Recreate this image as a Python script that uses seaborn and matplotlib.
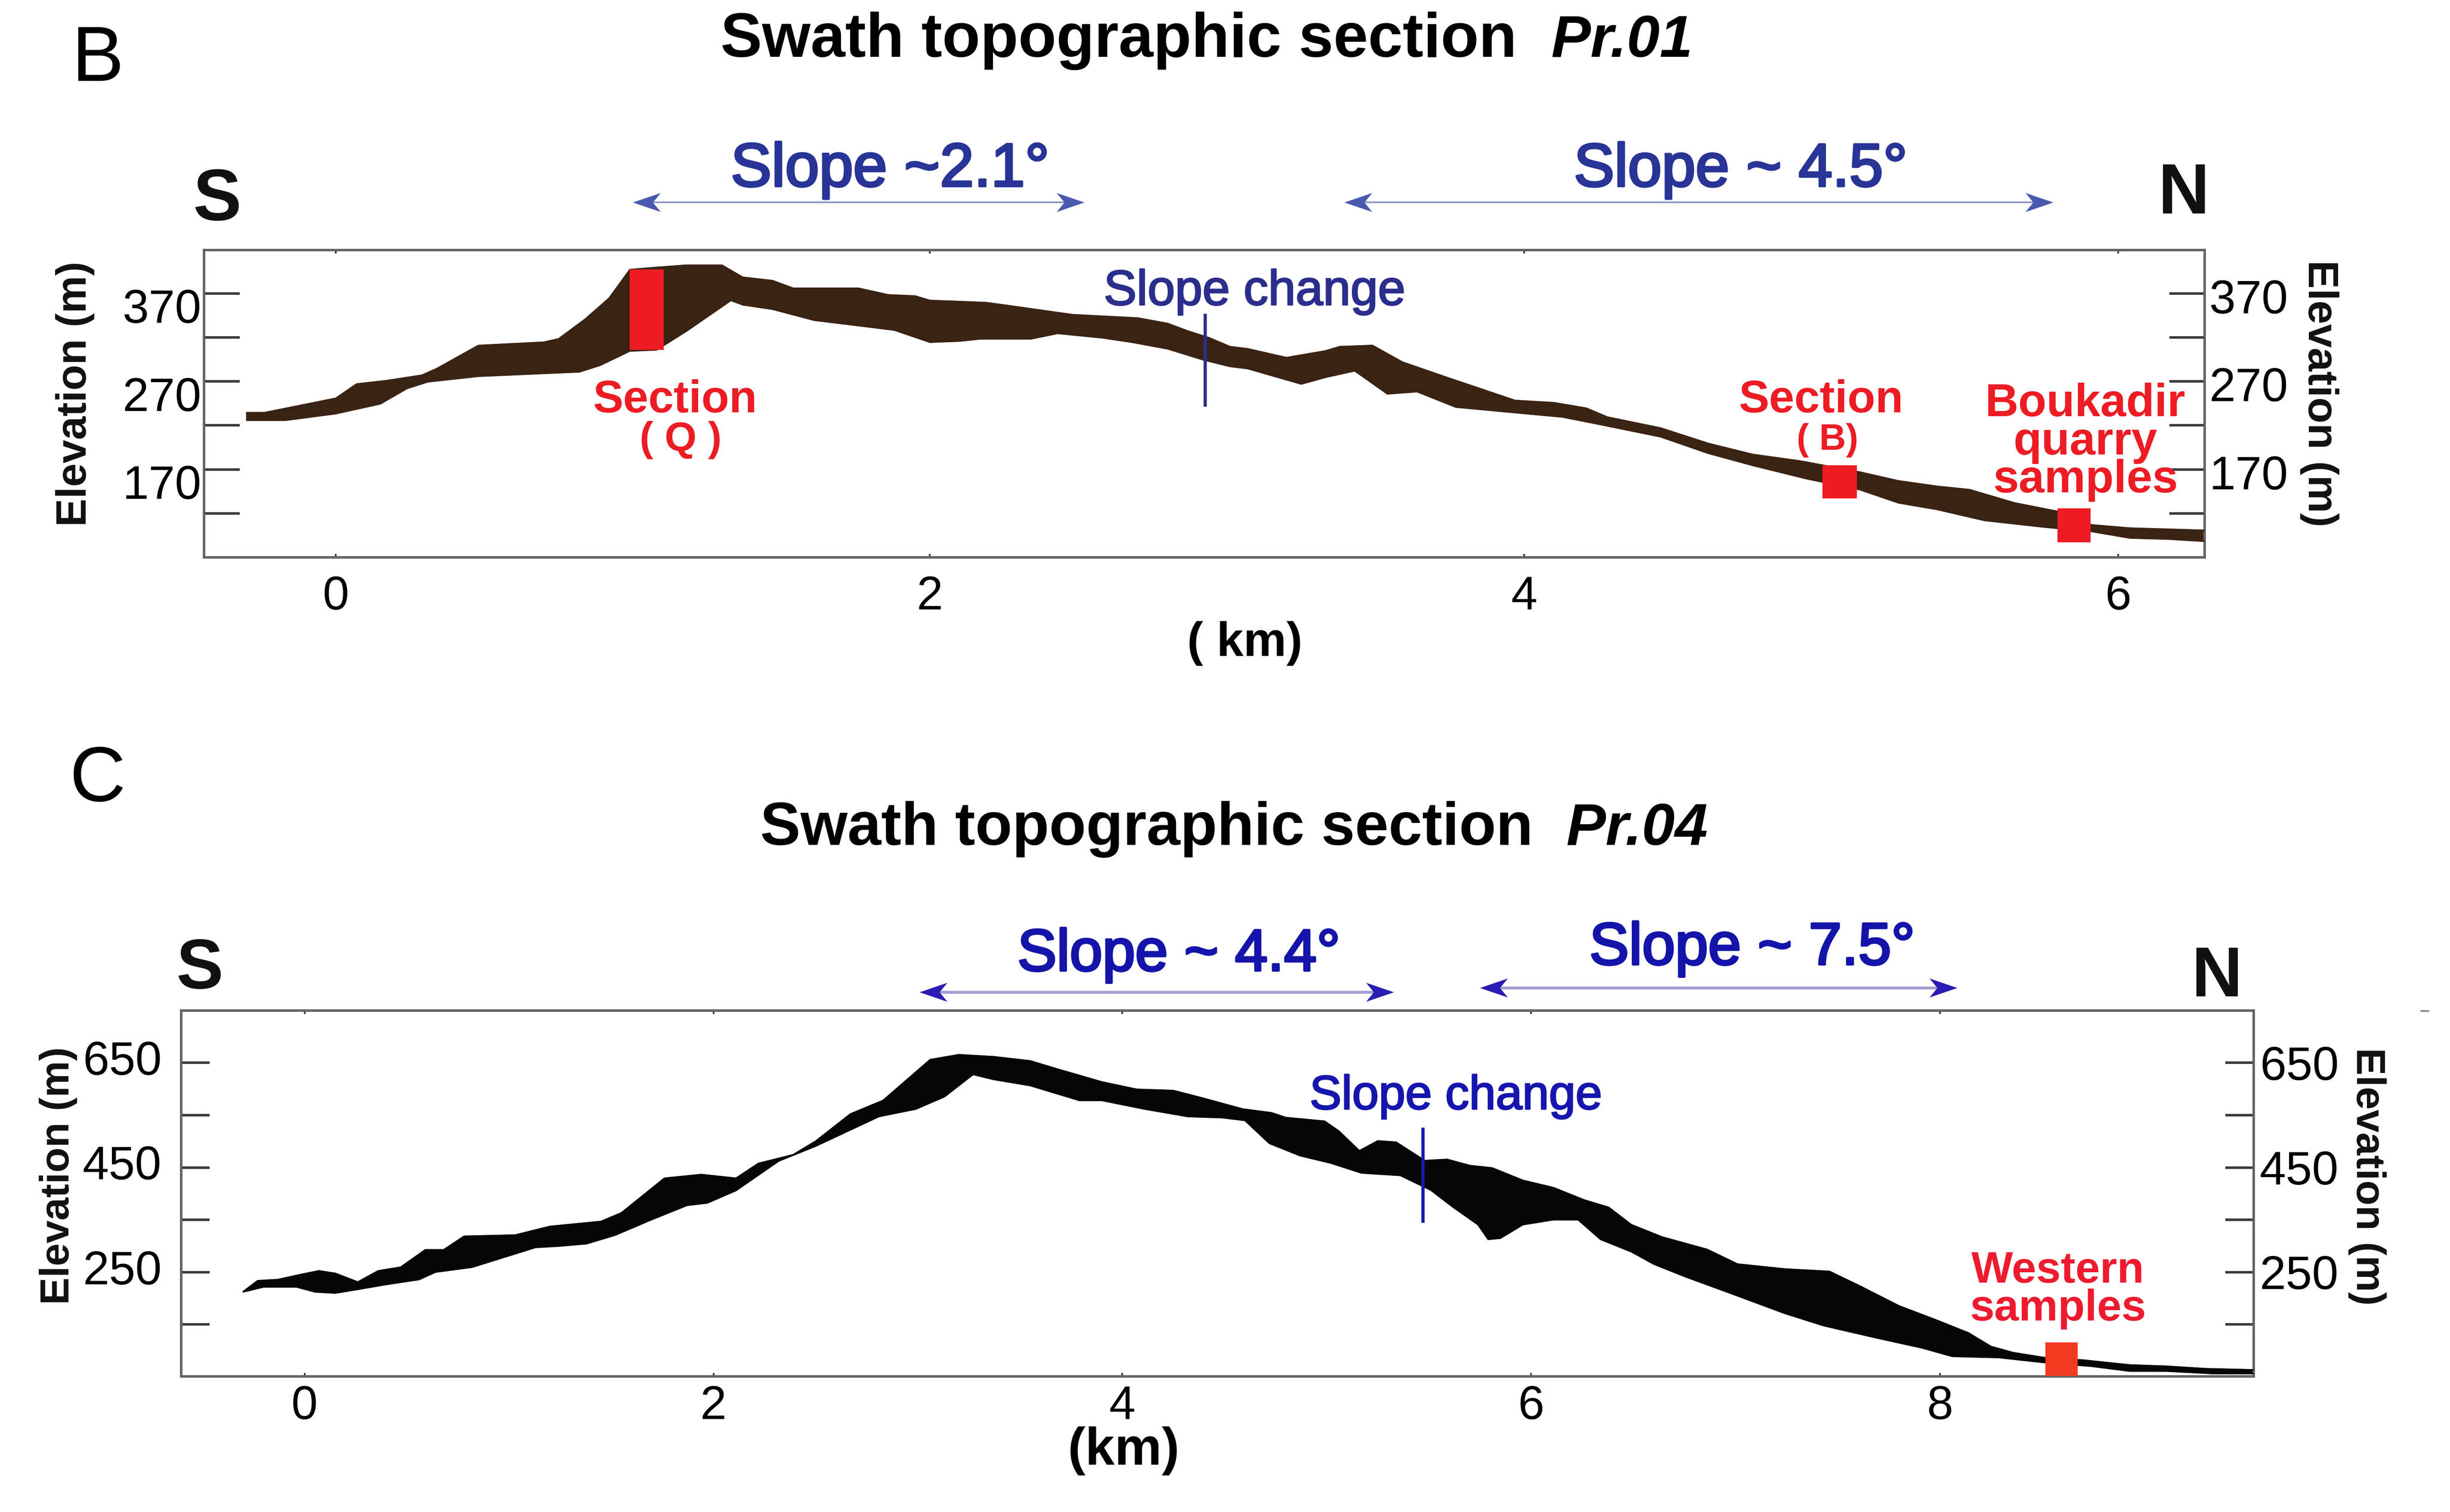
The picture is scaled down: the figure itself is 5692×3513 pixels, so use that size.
import numpy as np
import pandas as pd
import matplotlib
matplotlib.use("Agg")
import matplotlib.pyplot as plt
import matplotlib.patheffects as pe
import seaborn as sns
from matplotlib.lines import Line2D
from matplotlib.path import Path
from matplotlib.transforms import ScaledTranslation

# ---------------------------------------------------------------- data
# Profile Pr.01 (panel B): swath envelope, distance (km) / elevation (m)
pr01_upper_km = [-0.30, -0.24, 0.00, 0.07, 0.17, 0.29, 0.34, 0.48, 0.70, 0.75, 0.84, 0.92, 0.99,
                 1.08, 1.18, 1.30, 1.37, 1.47, 1.54, 1.76, 1.86, 1.95, 2.00, 2.19, 2.27, 2.48,
                 2.70, 2.80, 2.87, 2.94, 3.01, 3.07, 3.20, 3.33, 3.38, 3.49, 3.59, 3.74, 3.85,
                 3.97, 4.10, 4.21, 4.28, 4.46, 4.62, 4.77, 4.93, 5.13, 5.26, 5.39, 5.50, 5.65,
                 5.80, 5.91, 6.04, 6.17, 6.29]
pr01_upper_m = [234.5, 234.5, 250.8, 267.0, 270.8, 277.0, 284.5, 310.8, 314.5, 318.3, 340.8, 364.5,
                397.0, 399.5, 402.0, 402.0, 388.3, 384.5, 375.8, 375.8, 368.3, 367.0, 362.0, 359.5,
                355.8, 345.8, 342.0, 335.8, 327.0, 319.5, 309.5, 307.0, 297.0, 304.5, 309.5, 310.8,
                292.0, 274.5, 262.0, 248.3, 245.8, 239.5, 229.5, 217.0, 199.5, 187.0, 179.5, 167.0,
                157.0, 150.8, 147.0, 132.0, 122.0, 107.0, 103.3, 102.0, 100.8]
pr01_lower_km = [-0.30, -0.17, 0.00, 0.15, 0.24, 0.31, 0.48, 0.65, 0.82, 0.89, 0.99, 1.08, 1.18,
                 1.33, 1.37, 1.47, 1.61, 1.76, 1.88, 2.00, 2.10, 2.17, 2.34, 2.43, 2.58, 2.68,
                 2.80, 2.92, 3.01, 3.07, 3.25, 3.33, 3.43, 3.54, 3.64, 3.77, 3.97, 4.13, 4.26,
                 4.46, 4.62, 4.77, 4.95, 5.13, 5.26, 5.39, 5.55, 5.75, 5.91, 6.04, 6.17, 6.29]
pr01_lower_m = [225.8, 225.8, 233.3, 244.5, 262.0, 269.5, 275.8, 278.3, 280.8, 288.3, 304.5, 305.8,
                327.0, 362.0, 357.0, 352.0, 339.5, 333.3, 328.3, 314.5, 315.8, 318.3, 318.3, 324.5,
                319.5, 314.5, 307.0, 294.5, 287.0, 284.5, 267.0, 274.5, 282.0, 255.8, 258.3, 240.8,
                234.5, 229.5, 220.8, 207.0, 188.3, 174.5, 159.5, 147.0, 132.0, 124.5, 112.0, 104.5,
                99.5, 92.0, 90.8, 88.3]

# Profile Pr.04 (panel C)
pr04_upper_km = [-0.30, -0.23, -0.13, -0.02, 0.07, 0.15, 0.26, 0.36, 0.47, 0.59, 0.68, 0.78, 1.03,
                 1.20, 1.45, 1.55, 1.76, 1.94, 2.11, 2.22, 2.39, 2.50, 2.67, 2.83, 3.06, 3.20,
                 3.37, 3.55, 3.69, 3.90, 4.07, 4.25, 4.39, 4.59, 4.73, 4.80, 4.99, 5.06, 5.16,
                 5.25, 5.34, 5.48, 5.59, 5.70, 5.81, 5.96, 6.11, 6.26, 6.38, 6.49, 6.64, 6.86,
                 7.01, 7.24, 7.46, 7.61, 7.80, 7.99, 8.14, 8.25, 8.36, 8.51, 8.70, 8.93, 9.11,
                 9.30, 9.54]
pr04_upper_m = [213.0, 233.6, 235.9, 245.4, 252.5, 247.7, 231.2, 252.5, 259.5, 292.6, 292.6, 318.6,
                320.9, 337.4, 346.9, 363.4, 429.5, 436.6, 429.5, 457.8, 474.4, 500.3, 552.3, 578.2,
                656.1, 665.6, 661.8, 653.8, 637.3, 613.6, 599.5, 597.1, 583.0, 561.7, 554.6, 545.5,
                538.5, 519.5, 482.0, 500.8, 498.4, 463.2, 465.5, 453.8, 449.1, 425.5, 411.4, 387.9,
                373.8, 340.8, 317.3, 293.6, 265.5, 256.1, 251.4, 223.2, 185.5, 157.3, 133.8, 107.9,
                96.1, 86.7, 82.0, 72.6, 70.2, 65.5, 63.2]
pr04_lower_km = [-0.30, -0.20, -0.04, 0.05, 0.15, 0.26, 0.40, 0.56, 0.64, 0.82, 1.13, 1.24, 1.38,
                 1.52, 1.69, 1.87, 1.97, 2.11, 2.32, 2.50, 2.81, 2.99, 3.13, 3.27, 3.37, 3.55,
                 3.79, 3.90, 4.11, 4.32, 4.49, 4.60, 4.72, 4.87, 5.02, 5.17, 5.36, 5.51, 5.62,
                 5.74, 5.79, 5.85, 5.96, 6.11, 6.23, 6.34, 6.49, 6.60, 6.75, 6.98, 7.24, 7.43,
                 7.69, 7.91, 8.06, 8.29, 8.51, 8.74, 8.93, 9.11, 9.34, 9.54]
pr04_lower_m = [212.3, 221.8, 221.8, 212.3, 210.0, 217.1, 226.5, 235.9, 250.1, 259.5, 297.3, 299.7,
                304.4, 320.9, 349.2, 377.6, 382.3, 405.9, 462.6, 490.9, 547.5, 561.7, 585.3, 627.8,
                618.4, 606.6, 578.2, 578.2, 561.7, 547.5, 545.2, 540.0, 496.1, 472.6, 458.5, 439.6,
                434.9, 406.7, 373.8, 340.8, 312.6, 314.9, 340.8, 350.2, 350.2, 312.6, 289.1, 265.5,
                242.0, 209.1, 171.4, 147.9, 124.4, 105.5, 89.1, 86.7, 77.3, 70.2, 60.8, 60.8, 56.1,
                56.1]

# sampled sections (red boxes): start km, end km, bottom m, top m
pr01_sample_km0 = [0.99, 5.005, 5.796]
pr01_sample_km1 = [1.104, 5.121, 5.907]
pr01_sample_bot = [305.8, 137.0, 87.0]
pr01_sample_top = [397.0, 174.5, 125.8]
pr04_sample_km0 = [8.516]
pr04_sample_km1 = [8.674]
pr04_sample_bot = [51.8]
pr04_sample_top = [115.4]

# slope-change markers: km, elevation range
pr01_change_km = [2.926]
pr01_change_m = [241.0, 347.0]
pr04_change_km = [5.471]
pr04_change_m = [344.5, 526.3]

# axes
pr01_xlim = (-0.4435, 6.291)
pr01_ylim = (70.1, 419.4)
pr01_xticks = [0, 2, 4, 6]
pr01_yticks = [120, 170, 220, 270, 320, 370]
pr01_yticklabels = ["", "170", "", "270", "", "370"]
pr04_xlim = (-0.6048, 9.5357)
pr04_ylim = (50.8, 749.6)
pr04_xticks = [0, 2, 4, 6, 8]
pr04_yticks = [150, 250, 350, 450, 550, 650]
pr04_yticklabels = ["", "250", "", "450", "", "650"]

# ---------------------------------------------------------------- figure
W, H, DPI = 5692, 3513, 300
sns.set_theme(style="white")
plt.rcParams["font.family"] = ["Liberation Sans", "DejaVu Sans"]
plt.rcParams["axes.unicode_minus"] = False

fig = plt.figure(figsize=(W / DPI, H / DPI), dpi=DPI)
fig.patch.set_facecolor("white")
renderer = fig.canvas.get_renderer()


def fx(x):
    return x / W


def fy(y):
    return 1 - y / H


ax1 = fig.add_axes([fx(474), fy(1294.9), (5122 - 474) / W, (1294.9 - 580.6) / H])
ax2 = fig.add_axes([fx(420.5), fy(3197.9), (5236.2 - 420.5) / W, (3197.9 - 2348.4) / H])

RED = "#ED1C24"


def draw_band(ax, ukm, um, lkm, lm, color):
    xs = np.concatenate([np.asarray(ukm), np.asarray(lkm)[::-1]])
    ys = np.concatenate([np.asarray(um), np.asarray(lm)[::-1]])
    ax.fill(xs, ys, color=color, lw=0.6, ec=color, zorder=2)
    up = pd.DataFrame({"km": ukm, "m": um})
    lo = pd.DataFrame({"km": lkm, "m": lm})
    sns.lineplot(data=up, x="km", y="m", ax=ax, color=color, lw=0.8, estimator=None,
                 sort=False, legend=False, zorder=3)
    sns.lineplot(data=lo, x="km", y="m", ax=ax, color=color, lw=0.8, estimator=None,
                 sort=False, legend=False, zorder=3)


def draw_samples(ax, k0, k1, b, t, color):
    k0, k1, b, t = map(np.asarray, (k0, k1, b, t))
    ax.bar((k0 + k1) / 2, t - b, bottom=b, width=k1 - k0, color=color, lw=0, zorder=4)


def style_axes(ax, xlim, ylim, xticks, yticks, ylabels, ylen, xpad, ypad,
               left_shift, right_shift):
    ax.set_xlim(xlim)
    ax.set_ylim(ylim)
    ax.set_xticks(xticks)
    ax.set_xticklabels([str(v) for v in xticks])
    ax.set_yticks(yticks)
    ax.set_yticklabels(ylabels)
    ax.set_xlabel("")
    ax.set_ylabel("")
    ax.grid(False)
    ax.set_facecolor("white")
    for s in ax.spines.values():
        s.set_visible(True)
        s.set_color("#646464")
        s.set_linewidth(1.4)
    ax.tick_params(axis="x", which="major", direction="in", length=2.0, width=0.9,
                   color="#303030", top=True, bottom=True, labelsize=26.4,
                   labelcolor="black", pad=xpad)
    ax.tick_params(axis="y", which="major", direction="in", length=ylen, width=1.4,
                   color="#3a3a3a", left=True, right=True, labelleft=True,
                   labelright=True, labelsize=26.4, labelcolor="black", pad=ypad)
    for t in ax.yaxis.get_major_ticks():
        t.label1.set_transform(t.label1.get_transform() + ScaledTranslation(
            left_shift[0] / 72, left_shift[1] / 72, fig.dpi_scale_trans))
        t.label2.set_transform(t.label2.get_transform() + ScaledTranslation(
            right_shift[0] / 72, right_shift[1] / 72, fig.dpi_scale_trans))


# bands
draw_band(ax1, pr01_upper_km, pr01_upper_m, pr01_lower_km, pr01_lower_m, "#3B2314")
draw_band(ax2, pr04_upper_km, pr04_upper_m, pr04_lower_km, pr04_lower_m, "#060606")
draw_samples(ax1, pr01_sample_km0, pr01_sample_km1, pr01_sample_bot, pr01_sample_top, RED)
draw_samples(ax2, pr04_sample_km0, pr04_sample_km1, pr04_sample_bot, pr04_sample_top, "#F23A20")
ax1.vlines(pr01_change_km, pr01_change_m[0], pr01_change_m[1], color="#2B2E8C", lw=1.8, zorder=5)
ax2.vlines(pr04_change_km, pr04_change_m[0], pr04_change_m[1], color="#1818B0", lw=1.8, zorder=5)

style_axes(ax1, pr01_xlim, pr01_ylim, pr01_xticks, pr01_yticks, pr01_yticklabels,
           ylen=19.8, xpad=10.0, ypad=1.5, left_shift=(0, -7.0), right_shift=(1.0, -1.6))
style_axes(ax2, pr04_xlim, pr04_ylim, pr04_xticks, pr04_yticks, pr04_yticklabels,
           ylen=15.9, xpad=4.9, ypad=3.3, left_shift=(-7.5, 2.8), right_shift=(0, 0))


# ---------------------------------------------------------------- text helpers
def put(s, x, y, cap_px, width=None, ha="center", va="baseline", rot=0,
        lo=0.85, hi=1.15, stroke=0.0, **kw):
    size = cap_px * 72 / DPI / 0.716
    t = fig.text(fx(x), fy(y), s, fontsize=size, ha=ha, va=va, **kw)
    if width is not None:
        w = t.get_window_extent(renderer).width
        if w > 0:
            t.set_fontsize(size * float(np.clip(width / w, lo, hi)))
    if stroke > 0:
        t.set_path_effects([pe.withStroke(linewidth=stroke, foreground=t.get_color())])
    if rot:
        t.set_rotation(rot)
    return t


def put_block(lines, x, y_first, cap_px, width, step_px, **kw):
    """Several centred lines as one text object, with a given baseline step.
    The text is anchored on the baseline of its last line."""
    s = "\n".join(lines)
    y_last = y_first + step_px * (len(lines) - 1)
    t = put(s, x, y_last, cap_px, width=width, **kw)
    probe1 = fig.text(0, 0, "Ag", fontsize=t.get_fontsize(), fontweight=t.get_fontweight())
    probe2 = fig.text(0, 0, "Ag\nAg", fontsize=t.get_fontsize(), fontweight=t.get_fontweight(),
                      linespacing=1.0)
    h1 = probe1.get_window_extent(renderer).height
    h2 = probe2.get_window_extent(renderer).height
    probe1.remove()
    probe2.remove()
    nat = max(h2 - h1, 1.0)
    t.set_linespacing(step_px / nat)
    t.set_multialignment("center")
    return t


def arrow(x0, x1, y, shaft_color, head_color, shaft_lw, head_len_pt=15.5, half_w_pt=5.3):
    L = 2.0
    w = L * half_w_pt / head_len_pt
    right = Path([(0, 0), (-L, w), (-0.72 * L, 0), (-L, -w), (0, 0)],
                 [Path.MOVETO, Path.LINETO, Path.LINETO, Path.LINETO, Path.CLOSEPOLY])
    left = Path([(0, 0), (L, w), (0.72 * L, 0), (L, -w), (0, 0)],
                [Path.MOVETO, Path.LINETO, Path.LINETO, Path.LINETO, Path.CLOSEPOLY])
    hl_px = head_len_pt * DPI / 72
    fig.add_artist(Line2D([fx(x0 + 0.6 * hl_px), fx(x1 - 0.6 * hl_px)], [fy(y), fy(y)],
                          transform=fig.transFigure, color=shaft_color, lw=shaft_lw,
                          solid_capstyle="butt"))
    ms = 2 * head_len_pt
    fig.add_artist(Line2D([fx(x0)], [fy(y)], transform=fig.transFigure, marker=left,
                          markersize=ms, mfc=head_color, mec=head_color, mew=0, ls="none"))
    fig.add_artist(Line2D([fx(x1)], [fy(y)], transform=fig.transFigure, marker=right,
                          markersize=ms, mfc=head_color, mec=head_color, mew=0, ls="none"))


# ---------------------------------------------------------------- panel B texts
put("B", 226.5, 187.5, 130.1, color="black")
put("Swath topographic section", 1673.8, 132.0, 105.2, width=1849.4, ha="left",
    fontweight="bold", color="black")
put("Pr.01", 3603.3, 132.0, 105.2, width=329.4, ha="left", fontweight="bold",
    fontstyle="italic", color="black")
put("S", 504.0, 510.9, 120.5, fontweight="bold", color="#111111")
put("N", 5074.0, 495.6, 118.6, fontweight="bold", color="#111111")
put("Slope ~2.1\u00b0", 2067.7, 432.5, 99.5, width=739.8, color="#283496", stroke=1.3)
put("Slope ~ 4.5\u00b0", 4044.0, 432.5, 99.5, width=774.5, color="#283496", stroke=1.3)
arrow(1470.4, 2519.0, 470.0, "#8D98C6", "#4859AF", 0.95)
arrow(3122.6, 4769.6, 470.0, "#8D98C6", "#4859AF", 0.95)
put("Slope change", 2914.5, 708.2, 74.0, width=701.0, color="#2B2E8C", stroke=0.8)
put("Elevation (m)", 174.1, 915.2, 78.0, width=615.5, ha="center", va="center", rot=90,
    fontweight="bold", color="#111111")
put("Elevation (m)", 5388.4, 913.5, 78.0, width=619.9, ha="center", va="center", rot=270,
    fontweight="bold", color="#111111")
put("( km)", 2892.0, 1524.0, 88.0, width=268.0, fontweight="bold", color="black")
put("Section", 1569.0, 958.2, 77.0, width=381.4, fontweight="bold", color=RED)
put("( Q )", 1581.5, 1047.0, 71.5, width=190.7, fontweight="bold", color=RED)
put("Section", 4231.0, 958.2, 77.0, width=382.8, fontweight="bold", color=RED)
put("( B)", 4246.0, 1044.8, 53.6, width=156.7, fontweight="bold", color=RED)
put_block(["Boukadir", "quarry", "samples"], 4845.0, 973.5, 74.0, width=466.5,
          step_px=85.5, fontweight="bold", color=RED)

# ---------------------------------------------------------------- panel C texts
put("C", 226.6, 1860.5, 129.0, color="black")
put("Swath topographic section", 1766.3, 1963.3, 102.8, width=1796.1, ha="left",
    fontweight="bold", color="black")
put("Pr.04", 3639.0, 1963.3, 102.8, width=329.4, ha="left", fontweight="bold",
    fontstyle="italic", color="black")
put("S", 464.2, 2295.7, 117.2, fontweight="bold", color="#111111")
put("N", 5149.8, 2314.8, 117.1, fontweight="bold", color="#111111")
put("Slope ~ 4.4\u00b0", 2738.7, 2255.0, 95.6, width=750.0, color="#1414AA", stroke=1.3)
put("Slope ~ 7.5\u00b0", 4070.8, 2240.7, 95.7, width=756.7, color="#1414AA", stroke=1.3)
arrow(2136.2, 3238.3, 2304.8, "#A29ECF", "#2A1DB3", 1.6)
arrow(3437.7, 4547.1, 2294.8, "#A29ECF", "#2A1DB3", 1.6)
put("Slope change", 3382.5, 2576.8, 71.7, width=680.2, color="#1616AE", stroke=0.8)
put("Elevation (m)", 135.2, 2731.3, 73.0, width=599.5, ha="center", va="center", rot=90,
    fontweight="bold", color="#111111")
put("Elevation (m)", 5499.7, 2733.3, 73.0, width=599.9, ha="center", va="center", rot=270,
    fontweight="bold", color="#111111")
put("(km)", 2611.0, 3403.3, 88.0, width=260.0, fontweight="bold", color="black")
put_block(["Western", "samples"], 4781.0, 2981.5, 71.8, width=409.5,
          step_px=86.1, fontweight="bold", color="#EE1B2E")

# small stray mark at the upper right of panel C
fig.add_artist(Line2D([fx(5625), fx(5642)], [fy(2349), fy(2349)], transform=fig.transFigure,
                      color="#8a8a8a", lw=1.0))

fig.savefig("out.png", dpi=DPI, facecolor="white")
